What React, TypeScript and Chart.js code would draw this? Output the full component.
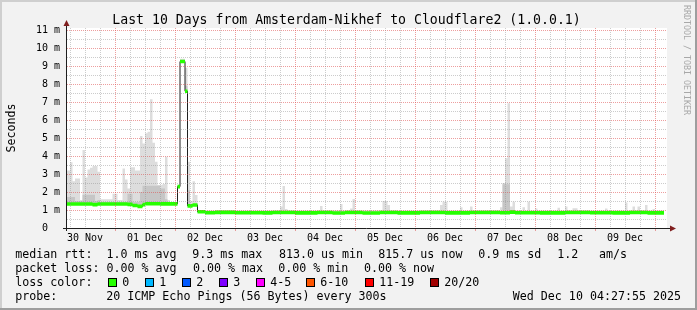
import React, { useEffect, useRef } from 'react';
import { Chart, registerables } from 'chart.js';

Chart.register(...registerables);

const MONO = "'DejaVu Sans Mono', monospace";

// ---- axis ranges (hours since 30 Nov 00:00, milliseconds) ----
const T_START = 4.8;
const T_END = 244.8;
const T_DATA_END = 243.6;
const Y_TOP = 11.111;

const titleText = 'Last 10 Days from Amsterdam-Nikhef to Cloudflare2 (1.0.0.1)';
const yAxisTitle = 'Seconds';
const watermark = 'RRDTOOL / TOBI OETIKER';

const dayLabels = ['30 Nov', '01 Dec', '02 Dec', '03 Dec', '04 Dec', '05 Dec', '06 Dec', '07 Dec', '08 Dec', '09 Dec'];
const yTickLabels = ['0  ', '1 m', '2 m', '3 m', '4 m', '5 m', '6 m', '7 m', '8 m', '9 m', '10 m', '11 m'];

// ---- median rtt (ms), step series: value holds from the given hour ----
const medianHours = [4, 15, 17, 29, 31, 33, 35, 36, 42, 49, 50, 52, 53, 55, 57, 60, 64, 72, 83, 87, 96, 105, 111, 116, 123, 130, 137, 146, 156, 166, 178, 182, 184, 194, 204, 214, 223, 230, 237];
const medianMs = [1.33, 1.30, 1.33, 1.31, 1.25, 1.20, 1.30, 1.35, 1.34, 2.30, 9.25, 7.60, 1.23, 1.28, 0.90, 0.85, 0.87, 0.85, 0.84, 0.86, 0.84, 0.86, 0.83, 0.86, 0.83, 0.86, 0.84, 0.86, 0.84, 0.86, 0.85, 0.88, 0.85, 0.84, 0.86, 0.85, 0.84, 0.86, 0.84];

// ---- smoke: highest ping (ms) ----
const smokeMaxHours = [4, 6, 7, 8, 10, 11, 12, 13, 14, 15, 17, 18, 23, 25, 27, 28, 29, 30, 32, 34, 35, 36, 37, 38, 39, 40, 41, 43, 44, 45, 46, 49, 50, 52, 53, 54, 55, 56, 57, 58, 90, 91, 92, 93, 106, 107, 114, 115, 118, 119, 120, 131, 133, 134, 154, 155, 157, 162, 163, 166, 167, 178, 179, 180, 181, 182, 183, 184, 187, 188, 189, 190, 192, 193, 201, 202, 204, 205, 207, 209, 220, 221, 228, 229, 231, 232, 233, 234, 236, 237, 239, 240];
const smokeMaxMs = [3.2, 3.65, 2.6, 2.75, 1.55, 4.33, 2.8, 3.25, 3.35, 3.45, 3.13, 1.6, 1.9, 1.55, 3.3, 2.7, 2.2, 3.37, 3.2, 5.11, 4.7, 5.26, 5.35, 7.15, 4.74, 3.68, 2.39, 2.44, 3.96, 1.56, 1.45, 2.4, 9.4, 8.9, 3.68, 1.5, 2.6, 1.83, 1.0, 0.98, 1.19, 2.33, 1.05, 0.98, 1.22, 0.98, 1.33, 0.98, 1.09, 1.61, 0.98, 1.5, 1.28, 0.98, 1.28, 1.46, 0.98, 1.15, 0.98, 1.19, 0.98, 1.15, 2.5, 3.87, 6.93, 1.19, 1.46, 0.98, 1.15, 0.98, 1.46, 0.98, 1.09, 0.98, 1.13, 0.98, 1.19, 0.98, 1.1, 0.98, 1.09, 0.98, 1.41, 0.98, 1.19, 0.98, 1.19, 0.98, 1.28, 0.98, 1.05, 0.98];

// ---- smoke: dense (darker) part (ms) ----
const smokeMidHours = [4, 8, 11, 16, 17, 18, 29, 31, 34, 35, 42, 44, 45, 49, 50, 52, 53, 54, 57, 179, 182];
const smokeMidMs = [1.72, 1.5, 1.85, 1.5, 1.55, 1.45, 1.9, 1.45, 2.0, 2.35, 2.2, 1.6, 1.42, 2.35, 9.3, 7.9, 2.1, 1.3, 0.92, 2.43, 0.92];

const MEDIAN_HALF = 0.1;

// ---- legend ----
const legendMedian = ['median rtt:  1.0 ms avg', '9.3 ms max', '813.0 us min', '815.7 us now', '0.9 ms sd', '1.2', 'am/s'];
const legendLoss = ['packet loss: 0.00 % avg', '0.00 % max', '0.00 % min', '0.00 % now'];
const lossColorLabels = ['0', '1', '2', '3', '4-5', '6-10', '11-19', '20/20'];
const lossColors = ['#26ff00', '#00b8ff', '#0059ff', '#7e00ff', '#ff00ff', '#ff5500', '#ff0000', '#a10000'];
const probeLabel = 'probe:';
const probeText = '20 ICMP Echo Pings (56 Bytes) every 300s';
const dateText = 'Wed Dec 10 04:27:55 2025';

const GRID = 'rgba(143,143,143,0.45)';
const MGRID = 'rgba(222,79,79,0.55)';
const AXIS = '#1f1f1f';
const ARROW = 'rgb(128,31,31)';
const hidden = 'rgba(0,0,0,0)';

// all series share one set of x positions (the union of their change hours)
const gridHours = Array.from(new Set([...medianHours, ...smokeMaxHours, ...smokeMidHours, T_DATA_END])).sort((a, b) => a - b);

function stepValueAt(hours: number[], values: number[], t: number) {
  let v = values[0];
  for (let i = 0; i < hours.length; i++) {
    if (hours[i] <= t) v = values[i];
    else break;
  }
  return v;
}

function series(hours: number[], values: number[], offset = 0) {
  return gridHours.map((t) => ({ x: t, y: stepValueAt(hours, values, t) + offset }));
}

const rrdPlugin = {
  id: 'rrdDecor',
  beforeDraw(chart: any) {
    const { ctx, width, height, chartArea: a } = chart;
    ctx.save();
    ctx.fillStyle = '#f2f2f2';
    ctx.fillRect(0, 0, width, height);
    ctx.fillStyle = '#cfcfcf';
    ctx.fillRect(0, 0, width, 2);
    ctx.fillRect(0, 0, 2, height);
    ctx.fillStyle = '#9e9e9e';
    ctx.fillRect(0, height - 2, width, 2);
    ctx.fillRect(width - 2, 0, 2, height);
    ctx.fillStyle = '#ffffff';
    ctx.fillRect(a.left, a.top, a.right - a.left, a.bottom - a.top);
    ctx.restore();
  },
  afterDatasetsDraw(chart: any) {
    const { ctx, chartArea: a } = chart;
    const xs = chart.scales.x;
    const ys = chart.scales.y;
    ctx.save();
    for (let k = 1; k <= 22; k++) {
      const v = k / 2;
      const py = Math.round(ys.getPixelForValue(v));
      ctx.fillStyle = Number.isInteger(v) ? MGRID : GRID;
      for (let px = a.left; px < a.right; px += 2) ctx.fillRect(px, py, 1, 1);
    }
    for (let h = 6; h <= 240; h += 6) {
      const px = Math.round(xs.getPixelForValue(h));
      const major = h % 24 === 0;
      ctx.fillStyle = major ? MGRID : GRID;
      for (let py = a.top; py < a.bottom; py += 2) ctx.fillRect(px, py, 1, 1);
      if (major) ctx.fillRect(px, a.bottom + 1, 1, 2);
    }
    ctx.restore();
  },
  afterDraw(chart: any) {
    const { ctx, chartArea: a } = chart;
    const ys = chart.scales.y;
    const xs = chart.scales.x;
    const y0 = Math.round(ys.getPixelForValue(0)) + 0.5;
    const x0 = Math.round(xs.getPixelForValue(T_START)) - 0.5;
    ctx.save();
    ctx.strokeStyle = AXIS;
    ctx.lineWidth = 1;
    ctx.beginPath();
    ctx.moveTo(a.left - 4, y0);
    ctx.lineTo(a.right + 3, y0);
    ctx.stroke();
    ctx.beginPath();
    ctx.moveTo(x0, a.bottom + 3);
    ctx.lineTo(x0, a.top - 3);
    ctx.stroke();
    ctx.fillStyle = ARROW;
    ctx.beginPath();
    ctx.moveTo(a.right + 9, y0);
    ctx.lineTo(a.right + 3, y0 - 3);
    ctx.lineTo(a.right + 3, y0 + 3);
    ctx.closePath();
    ctx.fill();
    ctx.beginPath();
    ctx.moveTo(x0, a.top - 8);
    ctx.lineTo(x0 - 3, a.top - 2);
    ctx.lineTo(x0 + 3, a.top - 2);
    ctx.closePath();
    ctx.fill();

    ctx.fillStyle = '#000';
    ctx.textBaseline = 'alphabetic';
    ctx.font = `13.2px ${MONO}`;
    ctx.textAlign = 'center';
    ctx.fillText(titleText, 346.5, 23.5);

    ctx.save();
    ctx.translate(15, (a.top + a.bottom) / 2);
    ctx.rotate(-Math.PI / 2);
    ctx.font = `11.65px ${MONO}`;
    ctx.textAlign = 'center';
    ctx.fillText(yAxisTitle, 0, 0);
    ctx.restore();

    ctx.save();
    ctx.translate(684, 5);
    ctx.rotate(Math.PI / 2);
    ctx.font = `8.3px ${MONO}`;
    ctx.textAlign = 'left';
    ctx.fillStyle = '#a8a8a8';
    ctx.fillText(watermark, 0, 0);
    ctx.restore();

    ctx.font = `11.65px ${MONO}`;
    ctx.textAlign = 'left';
    ctx.fillStyle = '#000';
    const l1x = [15.3, 192.3, 279, 378.3, 478.3, 557.3, 599];
    legendMedian.forEach((s, i) => ctx.fillText(s, l1x[i], 258));
    const l2x = [15.3, 193, 278.3, 364];
    legendLoss.forEach((s, i) => ctx.fillText(s, l2x[i], 272));
    ctx.fillText('loss color:', 15.3, 286);
    const boxX = [108, 145, 182, 219, 256, 306, 365, 430];
    lossColorLabels.forEach((s, i) => {
      const bx = boxX[i];
      ctx.fillStyle = lossColors[i];
      ctx.fillRect(bx, 278, 9, 9);
      ctx.strokeStyle = '#000';
      ctx.strokeRect(bx + 0.5, 278.5, 8, 8);
      ctx.fillStyle = '#000';
      ctx.fillText(s, bx + 14.3, 286);
    });
    ctx.fillText(probeLabel, 15.3, 300);
    ctx.fillText(probeText, 106.3, 300);
    ctx.textAlign = 'right';
    ctx.fillText(dateText, 681, 300);
    ctx.restore();
  },
};

function buildConfig(): any {
  const lineBase = {
    stepped: true,
    pointRadius: 0,
    pointHoverRadius: 0,
    tension: 0,
  };
  return {
    type: 'line',
    data: {
      datasets: [
        {
          ...lineBase,
          label: 'median (loss 0)',
          data: series(medianHours, medianMs, MEDIAN_HALF),
          borderColor: hidden,
          borderWidth: 0,
          backgroundColor: '#26ff00',
          fill: 1,
          order: 0,
        },
        {
          ...lineBase,
          label: 'median low',
          data: series(medianHours, medianMs, -MEDIAN_HALF),
          borderColor: hidden,
          borderWidth: 0,
          fill: false,
          order: 0,
        },
        {
          ...lineBase,
          label: 'median',
          data: series(medianHours, medianMs),
          borderColor: '#202020',
          borderWidth: 1,
          fill: false,
          order: 1,
        },
        {
          ...lineBase,
          label: 'smoke dense',
          data: series(smokeMidHours, smokeMidMs),
          borderColor: hidden,
          borderWidth: 0,
          backgroundColor: '#c6c6c6',
          fill: 2,
          order: 2,
        },
        {
          ...lineBase,
          label: 'smoke',
          data: series(smokeMaxHours, smokeMaxMs),
          borderColor: hidden,
          borderWidth: 0,
          backgroundColor: '#dddddd',
          fill: 2,
          order: 3,
        },
      ],
    },
    options: {
      responsive: false,
      maintainAspectRatio: false,
      devicePixelRatio: 1,
      animation: false,
      events: [],
      layout: { padding: { left: 0, top: 28, right: 30, bottom: 0 } },
      plugins: {
        legend: { display: false },
        tooltip: { enabled: false },
        title: { display: false },
      },
      scales: {
        x: {
          type: 'linear',
          min: T_START,
          max: T_END,
          afterFit: (s: any) => { s.height = 82; },
          afterBuildTicks: (s: any) => {
            const t = [];
            for (let h = 6; h <= 240; h += 6) t.push({ value: h });
            s.ticks = t;
          },
          ticks: {
            autoSkip: false,
            maxRotation: 0,
            minRotation: 0,
            padding: 4,
            color: '#000',
            font: { family: MONO, size: 10 },
            callback: (v: number) => (v % 24 === 12 ? dayLabels[(v - 12) / 24] : ''),
          },
          grid: { display: false, drawTicks: false },
          border: { display: false },
        },
        y: {
          type: 'linear',
          min: 0,
          max: Y_TOP,
          afterFit: (s: any) => { s.width = 67; },
          afterBuildTicks: (s: any) => {
            const t = [];
            for (let k = 0; k <= 22; k++) t.push({ value: k / 2 });
            s.ticks = t;
          },
          ticks: {
            autoSkip: false,
            padding: 7,
            color: '#000',
            font: { family: MONO, size: 10 },
            callback: (v: number) => (Number.isInteger(v) ? yTickLabels[v] : ''),
          },
          grid: { display: false, drawTicks: false },
          border: { display: false },
        },
      },
    },
    plugins: [rrdPlugin],
  };
}

export default function App() {
  const ref = useRef<HTMLCanvasElement>(null);
  useEffect(() => {
    const chart = new Chart(ref.current as HTMLCanvasElement, buildConfig());
    return () => chart.destroy();
  }, []);
  return (
    <div style={{ position: 'absolute', left: 0, top: 0, width: 697, height: 310 }}>
      <canvas ref={ref} width={697} height={310} style={{ display: 'block', width: 697, height: 310 }} />
    </div>
  );
}
